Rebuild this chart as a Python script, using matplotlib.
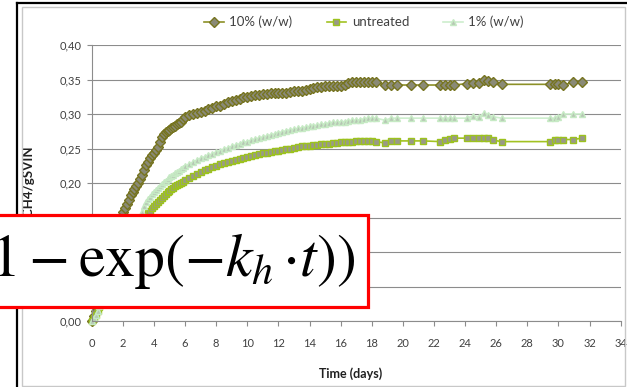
import matplotlib
matplotlib.use("Agg")
import matplotlib.pyplot as plt
from matplotlib.patches import Rectangle
from matplotlib.lines import Line2D

plt.rcParams['mathtext.fontset'] = 'stix'
plt.rcParams['font.family'] = ['Lato', 'DejaVu Sans']

# ---- data ----
days = [
    0, 0.125, 0.25, 0.375, 0.5, 0.625, 0.75, 0.875,
    1, 1.125, 1.25, 1.375, 1.5, 1.625, 1.75, 1.875,
    2, 2.125, 2.25, 2.375, 2.5, 2.625, 2.75, 2.875,
    3, 3.125, 3.25, 3.375, 3.5, 3.625, 3.75, 3.875,
    4, 4.125, 4.25, 4.375, 4.5, 4.625, 4.75, 4.875,
    5, 5.125, 5.25, 5.375, 5.5, 5.625, 5.75, 5.875,
    6, 6.25, 6.5, 6.75, 7, 7.25, 7.5, 7.75,
    8, 8.25, 8.5, 8.75, 9, 9.25, 9.5, 9.75,
    10, 10.25, 10.5, 10.75, 11, 11.25, 11.5, 11.75,
    12, 12.25, 12.5, 12.75, 13, 13.25, 13.5, 13.75,
    14, 14.25, 14.5, 14.75, 15, 15.25, 15.5, 15.75,
    16, 16.25, 16.5, 16.75, 17, 17.25, 17.5, 17.75,
    18, 18.25,
    18.85, 19.25, 19.6, 20.55, 21.3, 22.4, 22.7, 23.0, 23.3, 24.1, 24.5,
    24.9, 25.2, 25.5, 25.8, 26.35, 29.45, 29.75, 30.0, 30.3, 30.95, 31.5,
]

ten_pct = [
    0.000, 0.007, 0.015, 0.025, 0.035, 0.045, 0.055, 0.065,
    0.075, 0.085, 0.095, 0.107, 0.118, 0.129, 0.140, 0.150,
    0.158, 0.164, 0.170, 0.176, 0.182, 0.187, 0.191, 0.196,
    0.200, 0.206, 0.212, 0.219, 0.226, 0.231, 0.236, 0.240,
    0.243, 0.248, 0.252, 0.259, 0.266, 0.271, 0.274, 0.276,
    0.277, 0.279, 0.281, 0.283, 0.285, 0.287, 0.289, 0.293,
    0.296, 0.298, 0.300, 0.302, 0.303, 0.305, 0.307, 0.309,
    0.311, 0.312, 0.315, 0.317, 0.319, 0.320, 0.322, 0.324,
    0.325, 0.326, 0.327, 0.328, 0.329, 0.329, 0.330, 0.331,
    0.331, 0.330, 0.331, 0.332, 0.333, 0.333, 0.334, 0.335,
    0.336, 0.338, 0.339, 0.339, 0.340, 0.340, 0.340, 0.341,
    0.341, 0.342, 0.345, 0.347, 0.347, 0.347, 0.347, 0.347,
    0.347, 0.346,
    0.342, 0.342, 0.342, 0.342, 0.342, 0.342, 0.342, 0.342, 0.342, 0.344, 0.345,
    0.345, 0.349, 0.348, 0.346, 0.343, 0.343, 0.343, 0.343, 0.342, 0.346, 0.346,
]

untreated = [
    0.000, 0.004, 0.008, 0.014, 0.020, 0.025, 0.030, 0.036,
    0.042, 0.047, 0.053, 0.059, 0.065, 0.071, 0.077, 0.082,
    0.088, 0.093, 0.099, 0.104, 0.110, 0.115, 0.121, 0.126,
    0.132, 0.137, 0.142, 0.147, 0.151, 0.156, 0.160, 0.164,
    0.167, 0.170, 0.173, 0.175, 0.178, 0.181, 0.184, 0.187,
    0.189, 0.191, 0.193, 0.195, 0.197, 0.198, 0.200, 0.202,
    0.204, 0.207, 0.210, 0.213, 0.216, 0.219, 0.221, 0.223,
    0.225, 0.227, 0.229, 0.231, 0.232, 0.233, 0.235, 0.236,
    0.237, 0.239, 0.240, 0.242, 0.243, 0.244, 0.245, 0.246,
    0.247, 0.248, 0.249, 0.250, 0.251, 0.252, 0.253, 0.253,
    0.254, 0.255, 0.255, 0.256, 0.256, 0.257, 0.258, 0.258,
    0.259, 0.259, 0.260, 0.260, 0.261, 0.261, 0.261, 0.261,
    0.261, 0.260,
    0.258, 0.261, 0.261, 0.261, 0.261, 0.260, 0.263, 0.264, 0.265, 0.265, 0.265,
    0.265, 0.265, 0.265, 0.262, 0.260, 0.260, 0.262, 0.263, 0.263, 0.263, 0.265,
]

one_pct = [
    0.000, 0.004, 0.008, 0.015, 0.022, 0.027, 0.033, 0.039,
    0.045, 0.051, 0.057, 0.063, 0.069, 0.074, 0.080, 0.086,
    0.092, 0.098, 0.104, 0.110, 0.116, 0.122, 0.128, 0.134,
    0.140, 0.149, 0.158, 0.166, 0.173, 0.177, 0.180, 0.184,
    0.187, 0.190, 0.193, 0.196, 0.198, 0.201, 0.203, 0.206,
    0.208, 0.210, 0.212, 0.214, 0.216, 0.218, 0.220, 0.222,
    0.224, 0.227, 0.230, 0.233, 0.236, 0.238, 0.240, 0.242,
    0.245, 0.247, 0.249, 0.251, 0.253, 0.255, 0.257, 0.259,
    0.260, 0.262, 0.264, 0.265, 0.267, 0.268, 0.270, 0.271,
    0.273, 0.274, 0.276, 0.277, 0.278, 0.279, 0.280, 0.281,
    0.282, 0.283, 0.284, 0.285, 0.286, 0.287, 0.288, 0.288,
    0.289, 0.289, 0.290, 0.291, 0.291, 0.292, 0.293, 0.294,
    0.294, 0.294,
    0.291, 0.294, 0.294, 0.294, 0.294, 0.294, 0.294, 0.294, 0.294, 0.294, 0.297,
    0.296, 0.301, 0.298, 0.296, 0.294, 0.294, 0.294, 0.296, 0.300, 0.300, 0.300,
]

series_names = ['10% (w/w)', 'untreated', '1% (w/w)']
x_ticks = list(range(0, 35, 2))
y_ticks = [0.00, 0.05, 0.10, 0.15, 0.20, 0.25, 0.30, 0.35, 0.40]
y_tick_labels = ['0,00', '0,05', '0,10', '0,15', '0,20', '0,25', '0,30', '0,35', '0,40']

# ---- figure ----
W, H = 627, 387
fig = plt.figure(figsize=(W / 100, H / 100), dpi=100)
fig.patch.set_facecolor('white')

ax = fig.add_axes([91.7 / W, 1 - 321 / H, (620.7 - 91.7) / W, (321 - 45) / H])
ax.set_xlim(0, 34)
ax.set_ylim(0, 0.40)

axis_gray = '#8c8c8c'
ax.set_yticks(y_ticks)
ax.set_yticklabels(y_tick_labels)
ax.set_xticks(x_ticks)
ax.grid(axis='y', color=axis_gray, lw=0.8)
ax.set_axisbelow(True)
for s in ['top', 'right']:
    ax.spines[s].set_visible(False)
for s in ['left', 'bottom']:
    ax.spines[s].set_color(axis_gray)
    ax.spines[s].set_linewidth(0.8)
ax.tick_params(axis='both', direction='out', length=3.5, width=0.8, color=axis_gray,
               labelsize=8, labelcolor='#404040')
ax.tick_params(axis='x', pad=9)
ax.tick_params(axis='y', pad=4)

styles = [
    dict(color='#8c9026', marker='D', ms=4.8, mfc='#8a8a76', mec='#76741f', mew=1.0),
    dict(color='#a2c222', marker='s', ms=4.4, mfc='#999988', mec='#9cc21e', mew=1.0),
    dict(color='#cdeecd', marker='^', ms=4.8, mfc='#b6c6b4', mec='#c6eac4', mew=1.0),
]
handles = []
for vals, name, st in zip([ten_pct, untreated, one_pct], series_names, styles):
    h, = ax.plot(days, vals, lw=1.2, label=name, clip_on=False, **st)
    handles.append(h)

ax.set_xlabel('Time (days)', fontsize=9, fontweight='bold', color='#202020')
ax.xaxis.set_label_coords(0.49, -0.168)
ax.set_ylabel('LCH4/gSVIN', fontsize=9.5, fontweight='bold', color='#202020')
ax.yaxis.set_label_coords(-0.109, 0.50)

fig.legend(handles=handles, labels=series_names, loc='center',
           bbox_to_anchor=(364 / W, 1 - 22 / H), ncol=3, frameon=False,
           fontsize=9.5, handlelength=1.5, handletextpad=0.4, columnspacing=2.6,
           labelcolor='#404040')

# ---- outer frame ----
fig.add_artist(Line2D([17.3 / W, 1], [1 - 3.3 / H, 1 - 3.3 / H], transform=fig.transFigure,
                      color='black', lw=1.6))
fig.add_artist(Line2D([17.3 / W, 17.3 / W], [0, 1 - 3.3 / H], transform=fig.transFigure,
                      color='black', lw=1.6))
fig.add_artist(Rectangle((21.7 / W, 1.5 / H), (W - 21.7 - 2) / W, (H - 7.3 - 1.5) / H,
                         transform=fig.transFigure, fill=False, ec='#c8c8c8', lw=1.0))

# ---- formula overlay ----
fig.add_artist(Rectangle((-10 / W, 1 - 307 / H), 378 / W, 92 / H, transform=fig.transFigure,
                         facecolor='white', edgecolor='#ff0000', lw=2.3, zorder=5))
fig.text(355 / W, 1 - 276 / H, r'$1-\exp(-k_h\,{\cdot}t))$', fontsize=43, ha='right',
         va='baseline', color='black', zorder=6)

fig.savefig('out.png', dpi=100)
